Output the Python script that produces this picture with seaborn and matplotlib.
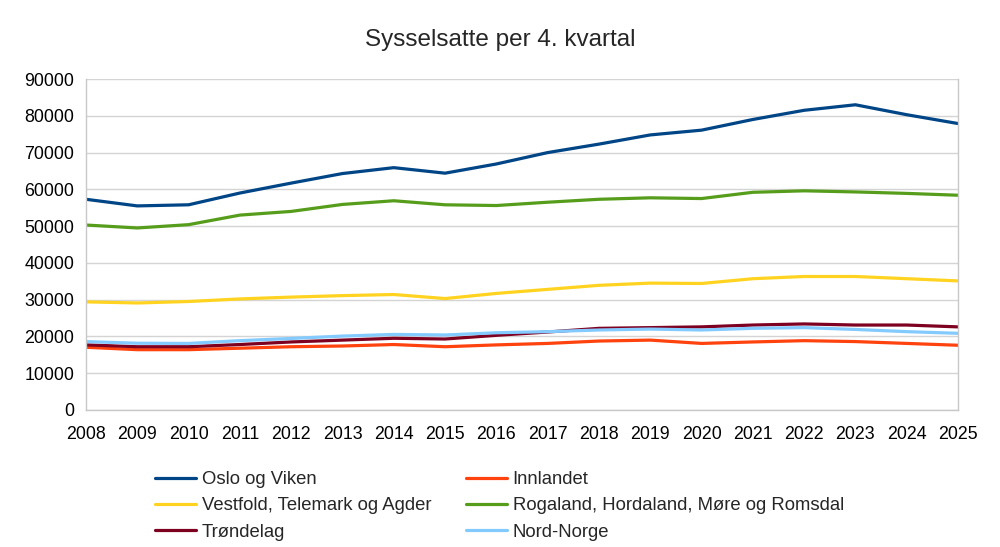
import numpy as np
import pandas as pd
import seaborn as sns
from matplotlib import pyplot as plt

years = list(range(2008, 2026))

oslo_viken = [57300, 55500, 55800, 59000, 61700, 64300, 65900, 64400, 66900, 70000,
              72300, 74800, 76100, 79000, 81500, 83000, 80300, 77900]
innlandet = [17050, 16400, 16400, 16800, 17200, 17400, 17800, 17200, 17700, 18100,
             18750, 19000, 18100, 18500, 18850, 18600, 18100, 17600]
vestfold_telemark_agder = [29400, 29100, 29500, 30200, 30700, 31100, 31400, 30300, 31700, 32800,
                           33900, 34500, 34400, 35700, 36300, 36300, 35700, 35100]
rogaland_hordaland_mr = [50300, 49500, 50400, 53000, 54000, 55900, 56900, 55800, 55600, 56500,
                         57300, 57700, 57500, 59200, 59600, 59300, 58900, 58400]
trondelag = [17700, 17200, 17200, 17800, 18500, 19000, 19500, 19300, 20300, 21200,
             22200, 22400, 22600, 23100, 23400, 23100, 23100, 22600]
nord_norge = [18600, 18150, 18100, 18850, 19450, 20100, 20550, 20400, 21000, 21300,
              21750, 22000, 21750, 22200, 22400, 21900, 21300, 20850]

series = {
    "Oslo og Viken": oslo_viken,
    "Innlandet": innlandet,
    "Vestfold, Telemark og Agder": vestfold_telemark_agder,
    "Rogaland, Hordaland, Møre og Romsdal": rogaland_hordaland_mr,
    "Trøndelag": trondelag,
    "Nord-Norge": nord_norge,
}
colors = {
    "Oslo og Viken": "#004586",
    "Innlandet": "#ff420e",
    "Vestfold, Telemark og Agder": "#ffd320",
    "Rogaland, Hordaland, Møre og Romsdal": "#579d1c",
    "Trøndelag": "#7e0021",
    "Nord-Norge": "#83caff",
}

rows = []
for name, vals in series.items():
    for y, v in zip(years, vals):
        rows.append({"year": y, "value": v, "region": name})
df = pd.DataFrame(rows)

sns.set_style("white")
plt.rcParams["font.family"] = ["Liberation Sans", "DejaVu Sans"]

fig = plt.figure(figsize=(10, 5.47), dpi=100)
ax = fig.add_axes([0.086, 0.2505, 0.872, 0.605])

sns.lineplot(data=df, x="year", y="value", hue="region", palette=colors,
             hue_order=list(series.keys()), linewidth=2.3, ax=ax, legend=True)

ax.set_xlim(2008, 2025)
ax.set_ylim(0, 90000)
ax.set_xticks(years)
ax.set_yticks(range(0, 90001, 10000))
ax.set_xlabel("")
ax.set_ylabel("")
ax.yaxis.grid(True, color="#d4d4d4", linewidth=1)
ax.xaxis.grid(False)
ax.set_axisbelow(True)
for s in ["left", "bottom", "right"]:
    ax.spines[s].set_visible(True)
    ax.spines[s].set_color("#c8c8c8")
    ax.spines[s].set_linewidth(1)
ax.spines["top"].set_visible(False)
ax.tick_params(axis="both", labelsize=12.8, colors="#c8c8c8", labelcolor="black",
               length=4.5, width=1, direction="out")
ax.tick_params(axis="y", pad=4)
ax.tick_params(axis="x", pad=7)
ax.tick_params(axis="y", which="both", right=False)

ax.legend_.remove()
handles, labels = ax.get_legend_handles_labels()
# arrange row-wise in two columns as the reference
order = [0, 2, 4, 1, 3, 5]
fig.legend([handles[i] for i in order], [labels[i] for i in order],
           loc="upper left", bbox_to_anchor=(0.155, 1 - 471 / 547), ncol=2,
           frameon=False, fontsize=13.35, handlelength=2.2, handletextpad=0.33,
           columnspacing=1.85, labelspacing=0.5, borderpad=0, borderaxespad=0)

fig.text(0.5, 1 - 40 / 547, "Sysselsatte per 4. kvartal", ha="center", va="center",
         fontsize=17.5)

fig.savefig("out.png", dpi=100, facecolor="white")
